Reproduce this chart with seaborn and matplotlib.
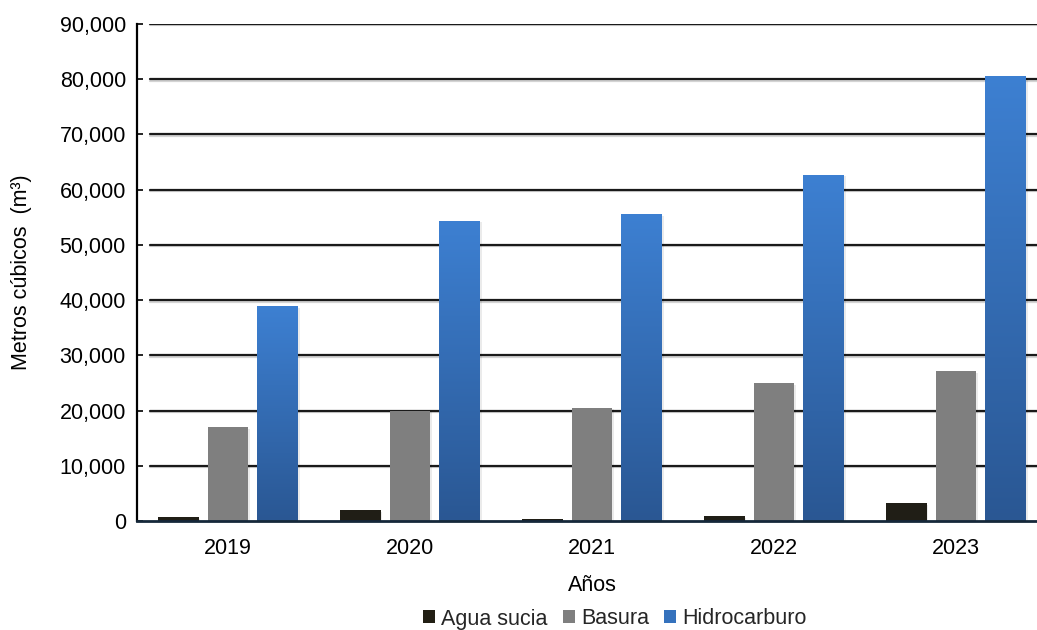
import numpy as np
import pandas as pd
import matplotlib
matplotlib.use("Agg")
import matplotlib.pyplot as plt
import matplotlib.patheffects as pe
from matplotlib.colors import LinearSegmentedColormap
from matplotlib.ticker import FuncFormatter, MultipleLocator
from matplotlib.patches import Patch
import seaborn as sns

years = ["2019", "2020", "2021", "2022", "2023"]
series = ["Agua sucia", "Basura", "Hidrocarburo"]
agua_sucia = [700, 2000, 400, 900, 3200]
basura = [17000, 20000, 20500, 25000, 27100]
hidrocarburo = [38900, 54400, 55600, 62700, 80600]

df = pd.DataFrame({
    "Año": years * 3,
    "Serie": [series[0]] * 5 + [series[1]] * 5 + [series[2]] * 5,
    "Valor": agua_sucia + basura + hidrocarburo,
})

sns.set_theme(style="white")
plt.rcParams["font.family"] = ["Liberation Sans", "DejaVu Sans"]

colors = {"Agua sucia": "#221f14", "Basura": "#7f7f7f", "Hidrocarburo": "#3572bd"}
FS = 15.5

fig = plt.figure(figsize=(10.37, 6.30), dpi=100)
ax = fig.add_axes([137 / 1037, 109 / 630, 910 / 1037, 497 / 630])

sns.barplot(data=df, x="Año", y="Valor", hue="Serie", order=years,
            hue_order=series, palette=colors, width=0.824, gap=0.18,
            edgecolor="none", linewidth=0, legend=False, ax=ax, zorder=3)

ax.set_ylim(0, 90000)
ax.set_xlim(-0.5, len(years) - 0.5)
ax.yaxis.set_major_locator(MultipleLocator(10000))
ax.yaxis.set_major_formatter(FuncFormatter(lambda v, p: f"{int(v):,}"))

# gridlines (start slightly right of the axis, as in the reference)
for v in np.arange(10000, 90001, 10000):
    ax.axhline(v, xmin=0.014, xmax=1, color="#1a1a1a", lw=1.6, zorder=1,
               path_effects=[pe.SimpleLineShadow(offset=(0, -1.0), shadow_color="#aaaaaa", alpha=0.5), pe.Normal()])

# gradient + soft shadow on bars
cmap = LinearSegmentedColormap.from_list("hid", ["#2a5793", "#3d80d2"])
grad = np.linspace(0, 1, 256).reshape(-1, 1)
for p in ax.patches:
    p.set_path_effects([pe.SimplePatchShadow(offset=(1.2, -1.2), shadow_rgbFace="#000000", alpha=0.08), pe.Normal()])
n = len(years)
hid_patches = ax.patches[2 * n:3 * n]
for p in hid_patches:
    x0, y0 = p.get_x(), p.get_y()
    w, h = p.get_width(), p.get_height()
    im = ax.imshow(grad, cmap=cmap, aspect="auto", origin="lower",
                   extent=[x0, x0 + w, y0, y0 + h], zorder=4)
    im.set_clip_path(p)

ax.set_xlim(-0.5, len(years) - 0.5)
ax.set_ylim(0, 90000)

for s in ["top", "right"]:
    ax.spines[s].set_visible(False)
ax.spines["left"].set_color("#000000")
ax.spines["left"].set_linewidth(1.6)
ax.spines["bottom"].set_color("#15283a")
ax.spines["bottom"].set_linewidth(2.0)
ax.spines["bottom"].set_zorder(6)

ax.tick_params(axis="y", direction="in", length=4, width=1.2, colors="#000000",
               labelsize=FS, pad=8, left=True)
ax.tick_params(axis="x", length=0, labelsize=FS, pad=12, colors="#000000")
for lab in ax.get_yticklabels() + ax.get_xticklabels():
    lab.set_color("#000000")

ax.set_ylabel("Metros cúbicos  (m³)", fontsize=FS, color="#000000", labelpad=20)
ax.set_xlabel("Años", fontsize=FS, color="#000000", labelpad=12)

handles = [Patch(facecolor=colors[s], edgecolor="none") for s in series]
fig.legend(handles, series, loc="center", bbox_to_anchor=(615 / 1037, 1 - 619 / 630),
           ncol=3, frameon=False, fontsize=FS, handlelength=0.55, handleheight=0.55,
           handletextpad=0.3, columnspacing=0.7, borderpad=0)

fig.savefig("out.png", dpi=100)
